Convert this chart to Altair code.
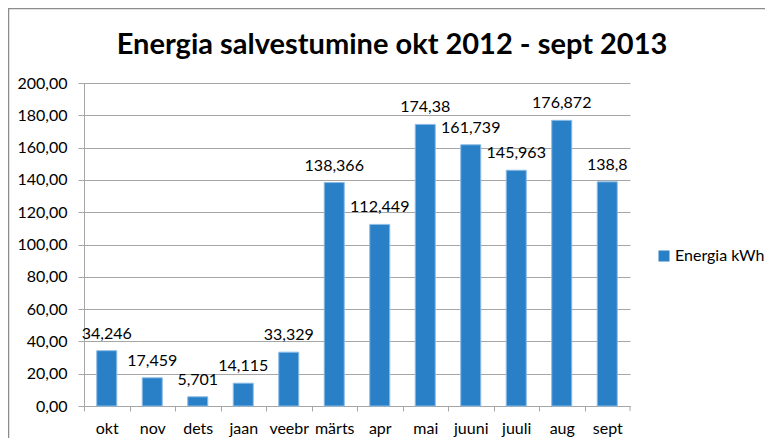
import altair as alt
import pandas as pd

title_text = "Energia salvestumine okt 2012 - sept 2013"
months = ["okt", "nov", "dets", "jaan", "veebr", "märts", "apr", "mai", "juuni", "juuli", "aug", "sept"]
energy = [34.246, 17.459, 5.701, 14.115, 33.329, 138.366, 112.449, 174.38, 161.739, 145.963, 176.872, 138.8]
series = "Energia kWh"
y_ticks = [0, 20, 40, 60, 80, 100, 120, 140, 160, 180, 200]

df = pd.DataFrame({"kuu": months, "energia": energy, "seeria": [series] * len(months)})

FONT = "Lato"
BLUE = "#2980C6"
GRID = "#A6A6A6"
FS = 16

W, H = 546, 323
HALF = W / 24

x_enc = alt.X("kuu:N", sort=months, title=None,
              scale=alt.Scale(paddingInner=0.56, paddingOuter=0.28),
              axis=alt.Axis(labelAngle=0, labelFont=FONT, labelFontSize=FS, labelColor="#000000",
                            domainColor=GRID, tickColor=GRID, tickSize=5, labelPadding=9,
                            bandPosition=0.5, tickOffset=-HALF, labelOffset=HALF,
                            labelOverlap=False))
y_enc = alt.Y("energia:Q", title=None,
              scale=alt.Scale(domain=[0, 200], nice=False),
              axis=alt.Axis(values=y_ticks, tickCount=50, labelFont=FONT, labelFontSize=FS,
                            labelColor="#000000",
                            labelExpr="replace(format(datum.value, '.2f'), '.', ',')",
                            domainColor=GRID, tickColor=GRID, tickSize=6, labelPadding=11,
                            gridColor=GRID, grid=True, labelOverlap=False))

base = alt.Chart(df)

bars = base.mark_bar(stroke="#8CBCE6", strokeWidth=1).encode(
    x=x_enc, y=y_enc,
    color=alt.Color("seeria:N", title=None,
                    scale=alt.Scale(domain=[series], range=[BLUE]),
                    legend=alt.Legend(orient="none", legendX=572, legendY=165,
                                      symbolType="square", symbolSize=121, symbolStrokeWidth=0,
                                      labelFont=FONT, labelFontSize=FS, labelColor="#000000",
                                      labelOffset=3)),
)

labels = base.transform_calculate(
    txt="replace('' + datum.energia, '.', ',')"
).mark_text(font=FONT, fontSize=FS, baseline="middle", dy=-17, color="#000000").encode(
    x=x_enc, y=y_enc, text="txt:N"
)

one = pd.DataFrame({"a": [0]})

last_tick = alt.Chart(one).mark_rule(color=GRID).encode(
    x=alt.value(W), y=alt.value(H), y2=alt.value(H + 5)
)

border = alt.Chart(one).mark_rect(
    fill=None, stroke="#8C8C8C", strokeWidth=1.5
).encode(
    x=alt.value(-75.5), y=alt.value(-74.5), x2=alt.value(W + 200), y2=alt.value(H + 200)
)

title = alt.Chart(one).mark_text(
    text=title_text, font=FONT, fontSize=29, fontWeight="bold", color="#000000",
    align="center", baseline="middle"
).encode(x=alt.value(308), y=alt.value(-38))

chart = alt.layer(border, bars, labels, last_tick, title).properties(
    width=W, height=H,
    autosize=alt.AutoSizeParams(type="none"),
    padding={"left": 76, "top": 75, "right": 135, "bottom": 32},
).configure_view(stroke=None).configure_axis(labelFlush=False)

chart.save("out.html", embed_options={"renderer": "svg", "actions": False})
